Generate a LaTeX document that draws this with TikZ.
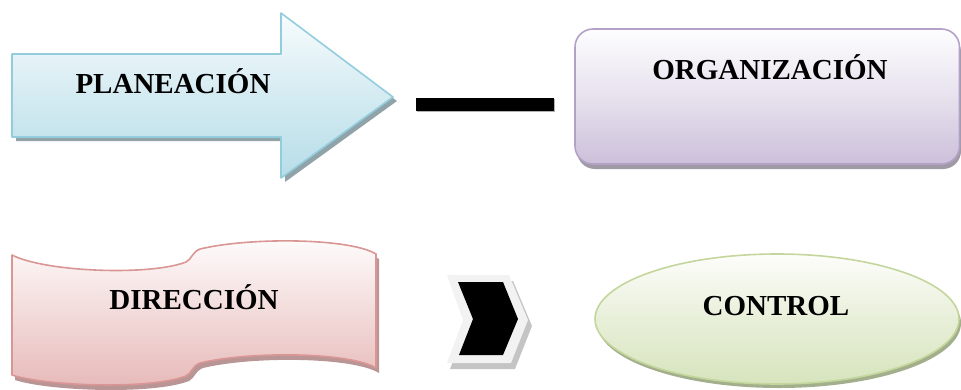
\documentclass[tikz,border=0pt]{standalone}
\usepackage{fontspec}
\setmainfont{Liberation Serif}
\definecolor{arrowline}{HTML}{93CDDD}
\definecolor{arrowtop}{HTML}{F8FCFD}
\definecolor{arrowbot}{HTML}{B7DDE8}
\definecolor{arrowshadow}{HTML}{8FA3A9}
\definecolor{boxline}{HTML}{B3A2C7}
\definecolor{boxtop}{HTML}{FDFDFE}
\definecolor{boxbot}{HTML}{CCC0DA}
\definecolor{boxshadow}{HTML}{A09AA6}
\definecolor{waveline}{HTML}{D99694}
\definecolor{wavetop}{HTML}{FEFCFC}
\definecolor{wavebot}{HTML}{E6B9B8}
\definecolor{waveshadow}{HTML}{B99595}
\definecolor{ellline}{HTML}{C3D69B}
\definecolor{elltop}{HTML}{FDFDFB}
\definecolor{ellbot}{HTML}{D7E4BD}
\definecolor{ellshadow}{HTML}{A2AE8C}
\definecolor{chevframe}{HTML}{F2F2F2}
\definecolor{chevshadow}{HTML}{C4C4C4}
\tikzset{
  lbl/.style={font=\fontsize{29}{34}\selectfont\bfseries, inner sep=0pt, anchor=base},
  bord/.style={line width=1.6pt, line join=round},
}
\begin{document}
\begin{tikzpicture}[x=1pt,y=-1pt]
\useasboundingbox (0,0) rectangle (961,389);

% ---- PLANEACION arrow ----
\fill[arrowshadow] ([shift={(4,4)}]12,54) -- ++(269,0) -- ++(0,-41) -- ++(112,84) -- ++(-112,81) -- ++(0,-41) -- ++(-269,0) -- cycle;
\path[bord, draw=arrowline, top color=arrowtop, bottom color=arrowbot, middle color=arrowtop!45!arrowbot]
  (12,54) -- (281,54) -- (281,13) -- (393,97) -- (281,178) -- (281,137) -- (12,137) -- cycle;
\node[lbl] (plan) at (173,93) {PLANEACIÓN};

% ---- bar ----
\fill[gray!60] (417,99) rectangle (555,112);
\fill[black] (416,98) rectangle (554,111);
\coordinate (barL) at (416,104.5);
\coordinate (barR) at (554,104.5);

% ---- ORGANIZACION box ----
\fill[boxshadow, rounded corners=18pt] (577,34) rectangle (961,169);
\path[bord, draw=boxline, top color=boxtop, bottom color=boxbot, middle color=boxtop!55!boxbot, rounded corners=18pt]
  (575,29) rectangle (959.5,164);
\node[lbl] (org) at (770,79) {ORGANIZACIÓN};

% ---- DIRECCION wave ----
\fill[waveshadow, shift={(3,5)}]
  (12,255) .. controls (45,272) and (150,276) .. (186,262)
  .. controls (192,259) and (192,252) .. (200,249)
  .. controls (250,237) and (350,238) .. (376,254)
  -- (376,368)
  .. controls (350,352) and (250,351) .. (200,363)
  .. controls (192,366) and (192,373) .. (186,376)
  .. controls (150,390) and (45,386) .. (12,375) -- cycle;
\path[bord, draw=waveline, top color=wavetop, bottom color=wavebot, middle color=wavetop!50!wavebot]
  (12,255) .. controls (45,272) and (150,276) .. (186,262)
  .. controls (192,259) and (192,252) .. (200,249)
  .. controls (250,237) and (350,238) .. (376,254)
  -- (376,368)
  .. controls (350,352) and (250,351) .. (200,363)
  .. controls (192,366) and (192,373) .. (186,376)
  .. controls (150,390) and (45,386) .. (12,375) -- cycle;
\node[lbl] (dir) at (194,309) {DIRECCIÓN};

% ---- chevron ----
\fill[chevshadow] (450,281) -- (513,281) -- (532,326) -- (515,369) -- (450,369) -- (467,326) -- cycle;
\fill[chevframe] (447,275) -- (509,275) -- (528,320) -- (511,363) -- (447,363) -- (463,320) -- cycle;
\fill[black] (458,282) -- (503,282) -- (518,319) -- (503,355) -- (459,355) -- (473,319) -- cycle;
\coordinate (chev) at (488,319);

% ---- CONTROL ellipse ----
\fill[ellshadow] (779,323) ellipse [x radius=182, y radius=65];
\path[bord, draw=ellline, top color=elltop, bottom color=ellbot, middle color=elltop!45!ellbot]
  (777,319) ellipse [x radius=182, y radius=65];
\node[lbl] (ctrl) at (776,315) {CONTROL};
\end{tikzpicture}
\end{document}
